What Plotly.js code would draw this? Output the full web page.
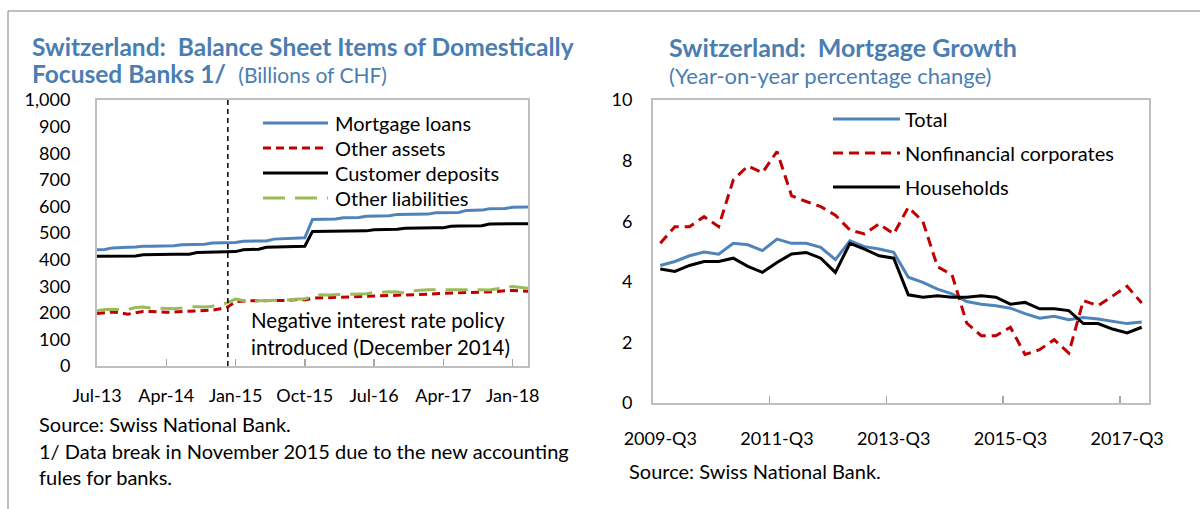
<!DOCTYPE html>
<html>
<head>
<meta charset="utf-8">
<script src="https://cdn.plot.ly/plotly-3.0.1.min.js"></script>
<style>
  html, body { margin: 0; padding: 0; background: #ffffff; }
  #chart { width: 1200px; height: 509px; }
</style>
</head>
<body>
<div id="chart"></div>
<script>
// ---------------- DATA ----------------
// Left panel: monthly, billions of CHF
const months = [
  "Jul-13","Aug-13","Sep-13","Oct-13","Nov-13","Dec-13",
  "Jan-14","Feb-14","Mar-14","Apr-14","May-14","Jun-14","Jul-14","Aug-14","Sep-14","Oct-14","Nov-14","Dec-14",
  "Jan-15","Feb-15","Mar-15","Apr-15","May-15","Jun-15","Jul-15","Aug-15","Sep-15","Oct-15","Nov-15","Dec-15",
  "Jan-16","Feb-16","Mar-16","Apr-16","May-16","Jun-16","Jul-16","Aug-16","Sep-16","Oct-16","Nov-16","Dec-16",
  "Jan-17","Feb-17","Mar-17","Apr-17","May-17","Jun-17","Jul-17","Aug-17","Sep-17","Oct-17","Nov-17","Dec-17",
  "Jan-18","Feb-18","Mar-18"
];
const mortgageLoans = [437,438,444,446,446,447,450,450,451,451,
  452,456,457,457,458,462,463,463,464,469,
  469,470,470,477,478,478,479,482,551,551,
  552,553,557,557,558,563,563,564,565,570,
  570,570,571,571,576,576,577,577,585,585,
  586,591,591,592,597,597,598];
const otherAssets = [197,200,203,200,195,200,205,205,203,202,
  203,204,206,207,208,210,215,222,242,244,
  245,245,245,246,246,247,250,248,255,256,
  257,258,258,259,260,260,261,262,264,266,
  267,268,268,270,272,273,273,274,275,275,
  276,278,280,283,284,282,281];
const customerDeposits = [413,413,413,414,414,414,418,419,419,419,
  420,420,420,427,428,428,429,429,430,437,
  438,439,446,447,447,447,448,450,506,506,
  507,507,507,507,508,508,512,513,513,514,
  518,519,519,519,520,520,525,526,526,526,
  527,534,534,535,535,535,535];
const otherLiabilities = [208,212,213,213,212,220,222,218,217,216,
  215,218,222,223,222,225,230,238,252,246,
  244,245,246,246,247,248,252,252,262,268,
  267,268,270,271,271,272,276,278,279,278,
  274,283,286,287,287,287,286,287,287,287,
  287,286,290,297,299,296,292];
const policyMonth = "Dec-14";

// Right panel: quarterly, y/y % change
const quarters = [
  "2009-Q3","2009-Q4",
  "2010-Q1","2010-Q2","2010-Q3","2010-Q4",
  "2011-Q1","2011-Q2","2011-Q3","2011-Q4",
  "2012-Q1","2012-Q2","2012-Q3","2012-Q4",
  "2013-Q1","2013-Q2","2013-Q3","2013-Q4",
  "2014-Q1","2014-Q2","2014-Q3","2014-Q4",
  "2015-Q1","2015-Q2","2015-Q3","2015-Q4",
  "2016-Q1","2016-Q2","2016-Q3","2016-Q4",
  "2017-Q1","2017-Q2","2017-Q3","2017-Q4"
];
const total = [4.54,4.67,4.86,4.98,4.91,5.27,5.22,5.03,5.41,5.27,
  5.27,5.14,4.73,5.35,5.16,5.08,4.97,4.15,3.98,3.76,
  3.60,3.35,3.26,3.21,3.13,2.95,2.80,2.86,2.75,2.82,
  2.77,2.69,2.62,2.67];
const nonfinCorporates = [5.27,5.82,5.82,6.15,5.82,7.36,7.82,7.60,8.30,6.84,
  6.65,6.48,6.20,5.71,5.58,5.91,5.58,6.46,5.99,4.50,
  4.23,2.64,2.22,2.22,2.50,1.60,1.76,2.09,1.65,3.38,
  3.21,3.52,3.85,3.30];
const households = [4.42,4.34,4.54,4.67,4.67,4.78,4.51,4.31,4.64,4.92,
  4.97,4.78,4.31,5.27,5.08,4.86,4.78,3.57,3.49,3.54,
  3.49,3.49,3.54,3.49,3.26,3.32,3.11,3.11,3.05,2.62,
  2.62,2.44,2.31,2.50];

const leftTickLabels = ["Jul-13","Apr-14","Jan-15","Oct-15","Jul-16","Apr-17","Jan-18"];
const rightTickLabels = ["2009-Q3","2011-Q3","2013-Q3","2015-Q3","2017-Q3"];

// ---------------- STYLE ----------------
const W = 1200, H = 509;
const FONT = "Lato, 'Open Sans', sans-serif";
const TITLE_BLUE = "#4A7EB0";
const C_BLUE = "#4F84BA", C_RED = "#C00000", C_BLACK = "#000000", C_GREEN = "#9BBB59";
const AXIS_GRAY = "#BFBFBF", TICK_GRAY = "#A6A6A6";
const px = x => x / W;
const py = y => 1 - y / H;

const leftSeries = [
  {name: "Mortgage loans", y: mortgageLoans, color: C_BLUE, dash: "solid"},
  {name: "Other assets", y: otherAssets, color: C_RED, dash: "8px,5px"},
  {name: "Customer deposits", y: customerDeposits, color: C_BLACK, dash: "solid"},
  {name: "Other liabilities", y: otherLiabilities, color: C_GREEN, dash: "22px,10px"}
];
const rightSeries = [
  {name: "Total", y: total, color: C_BLUE, dash: "solid"},
  {name: "Nonfinancial corporates", y: nonfinCorporates, color: C_RED, dash: "10px,6px"},
  {name: "Households", y: households, color: C_BLACK, dash: "solid"}
];

const traces = [];
leftSeries.forEach(s => traces.push({
  type: "scatter", mode: "lines", x: months, y: s.y, name: s.name,
  xaxis: "x", yaxis: "y", showlegend: false, hoverinfo: "skip",
  line: {color: s.color, width: 3, dash: s.dash}
}));
rightSeries.forEach(s => traces.push({
  type: "scatter", mode: "lines", x: quarters, y: s.y, name: s.name,
  xaxis: "x2", yaxis: "y3", showlegend: false, hoverinfo: "skip",
  line: {color: s.color, width: 3, dash: s.dash}
}));

const tickFont = {family: FONT, size: 18, color: "#000"};
const LDOM_X = [px(97), px(528)], LDOM_Y = [py(366), py(100)];
const RDOM_X = [px(653), px(1149)], RDOM_Y = [py(403), py(100)];

const shapes = [];
const annotations = [];

// frame
shapes.push({type: "line", xref: "paper", yref: "paper", x0: px(8), x1: px(1200), y0: py(11), y1: py(11), line: {color: "#7F7F7F", width: 1}});
shapes.push({type: "line", xref: "paper", yref: "paper", x0: px(8), x1: px(8), y0: py(11), y1: py(509), line: {color: "#7F7F7F", width: 1}});

// policy line
shapes.push({type: "line", xref: "x", yref: "y domain", x0: policyMonth, x1: policyMonth, y0: 0, y1: 1,
  line: {color: "#000", width: 1.5, dash: "5px,4px"}});

// manual legends
function addLegend(series, x0, x1, tx, ys, fontSize) {
  series.forEach((s, i) => {
    shapes.push({type: "line", xref: "paper", yref: "paper", x0: px(x0), x1: px(x1), y0: py(ys[i]), y1: py(ys[i]),
      line: {color: s.color, width: 3, dash: s.dash}});
    annotations.push({xref: "paper", yref: "paper", x: px(tx), y: py(ys[i]), xanchor: "left", yanchor: "middle",
      showarrow: false, text: s.name, font: {family: FONT, size: fontSize, color: "#000"}});
  });
}
addLegend(leftSeries, 263, 328, 333, [123, 148, 173, 198], 20);
addLegend(rightSeries, 833, 900, 903, [119, 153, 187], 20);

function note(x, y, text, size, color, extra) {
  annotations.push(Object.assign({xref: "paper", yref: "paper", x: px(x), y: py(y), xanchor: "left", yanchor: "middle",
    showarrow: false, text: text, font: {family: FONT, size: size, color: color}}, extra || {}));
}
// titles
note(30, 47, "<b>Switzerland:\u00A0 Balance Sheet Items of Domestically</b>", 24.5, TITLE_BLUE);
note(30, 73, "<b>Focused Banks 1/</b>\u00A0 <span style='font-size:21px'>(Billions of CHF)</span>", 24.5, TITLE_BLUE);
note(667, 47, "<b>Switzerland:\u00A0 Mortgage Growth</b>", 25, TITLE_BLUE);
note(667, 76, "(Year-on-year percentage change)", 22, TITLE_BLUE);
// in-chart note
note(249, 320, "Negative interest rate policy", 20.5, "#000");
note(249, 347, "introduced (December 2014)", 20.5, "#000");
// sources
note(37, 424, "Source: Swiss National Bank.", 20, "#000");
note(37, 451, "1/ Data break in November 2015 due to the new accounting", 20, "#000");
note(37, 477, "fules for banks.", 20, "#000");
note(627, 471, "Source: Swiss National Bank.", 20, "#000");

const baseAxis = {tickfont: tickFont, zeroline: false, showgrid: false, fixedrange: true, tickangle: 0};

const layout = {
  width: W, height: H,
  margin: {l: 0, r: 0, t: 0, b: 0},
  paper_bgcolor: "#fff", plot_bgcolor: "#fff",
  font: {family: FONT, size: 18, color: "#000"},
  showlegend: false,
  xaxis: Object.assign({}, baseAxis, {
    domain: LDOM_X, anchor: "y", type: "category", range: [0, months.length - 1], autorange: false,
    tickmode: "array", tickvals: leftTickLabels, ticktext: leftTickLabels,
    ticks: "inside", ticklen: 7, tickwidth: 1.5, tickcolor: TICK_GRAY,
    showline: true, mirror: true, linecolor: AXIS_GRAY, linewidth: 2, ticklabelstandoff: 12
  }),
  yaxis: Object.assign({}, baseAxis, {
    domain: LDOM_Y, anchor: "x", range: [0, 1000], autorange: false, dtick: 100, tick0: 0,
    tickformat: ",d", ticks: "", showline: true, mirror: true, linecolor: AXIS_GRAY, linewidth: 2,
    ticklabelstandoff: 21
  }),
  yaxis2: Object.assign({}, baseAxis, {
    domain: LDOM_Y, anchor: "x", overlaying: "y", side: "right", range: [0, 1000], autorange: false,
    dtick: 100, tick0: 0, tickformat: ",d", ticks: "inside", ticklen: 7, tickwidth: 1.5, tickcolor: TICK_GRAY,
    showline: false, ticklabelstandoff: 19
  }),
  xaxis2: Object.assign({}, baseAxis, {
    domain: RDOM_X, anchor: "y3", type: "category", range: [-0.5, quarters.length - 0.5], autorange: false,
    tickmode: "linear", tick0: 0, dtick: 8, tickson: "boundaries",
    ticks: "inside", ticklen: 7, tickwidth: 1.5, tickcolor: TICK_GRAY,
    showline: true, mirror: true, linecolor: AXIS_GRAY, linewidth: 2, ticklabelstandoff: 18
  }),
  yaxis3: Object.assign({}, baseAxis, {
    domain: RDOM_Y, anchor: "x2", range: [0, 10], autorange: false, dtick: 2, tick0: 0,
    ticks: "", showline: true, mirror: true, linecolor: AXIS_GRAY, linewidth: 2, ticklabelstandoff: 15
  }),
  yaxis4: Object.assign({}, baseAxis, {
    domain: RDOM_Y, anchor: "x2", overlaying: "y3", side: "right", range: [0, 10], autorange: false,
    dtick: 2, tick0: 0, ticks: "inside", ticklen: 7, tickwidth: 1.5, tickcolor: TICK_GRAY,
    showline: false, ticklabelstandoff: 18
  }),
  shapes: shapes,
  annotations: annotations
};

Plotly.newPlot("chart", traces, layout, {staticPlot: true, displayModeBar: false});
</script>
</body>
</html>
